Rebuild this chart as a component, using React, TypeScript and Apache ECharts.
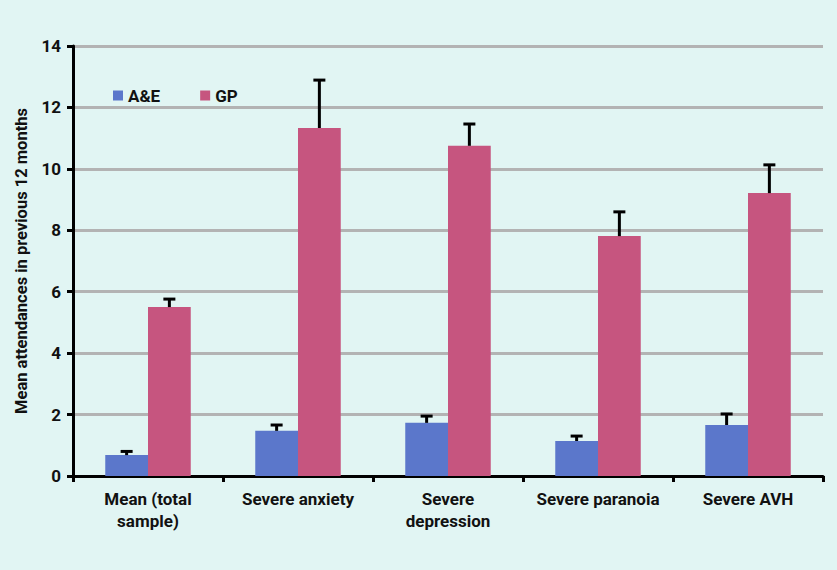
import React, { useEffect, useRef } from "react";
import * as echarts from "echarts";

const categories = ["Mean (total\nsample)", "Severe anxiety", "Severe\ndepression", "Severe paranoia", "Severe AVH"];
const aeValues = [0.68, 1.47, 1.73, 1.14, 1.66];
const aeUpper = [0.8, 1.66, 1.95, 1.3, 2.02];
const gpValues = [5.5, 11.33, 10.75, 7.81, 9.21];
const gpUpper = [5.76, 12.89, 11.46, 8.6, 10.13];
const seriesNames = ["A&E", "GP"];
const yTicks = { min: 0, max: 14, interval: 2 };
const yTitle = "Mean attendances in previous 12 months";

const FONT = "Roboto";
const CAT_GAP = 0.43;

export default function App() {
  const ref = useRef<HTMLDivElement>(null);
  useEffect(() => {
    document.body.style.margin = "0";
    const chart = echarts.init(ref.current!, null, { renderer: "svg" });
    const errorSeries = (name: string, vals: number[], upper: number[], side: number) => ({
      type: "custom",
      name: name + " err",
      z: 5,
      data: vals.map((v, i) => [i, v, upper[i]]),
      renderItem: (params: any, api: any) => {
        const i = api.value(0);
        const catW = api.size([1, 0])[0];
        const barW = (catW * (1 - CAT_GAP)) / 2;
        const base = api.coord([i, api.value(1)]);
        const top = api.coord([i, api.value(2)]);
        const x = base[0] + side * barW / 2;
        return {
          type: "group",
          children: [
            { type: "line", shape: { x1: x, y1: base[1], x2: x, y2: top[1] }, style: { stroke: "#000", lineWidth: 3 } },
            { type: "line", shape: { x1: x - 6, y1: top[1], x2: x + 6, y2: top[1] }, style: { stroke: "#000", lineWidth: 3 } },
          ],
        };
      },
    });
    chart.setOption({
      animation: false,
      backgroundColor: "#e1f5f3",
      textStyle: { fontFamily: FONT },
      grid: { left: 73, right: 14, top: 46, bottom: 94 },
      legend: {
        data: seriesNames,
        left: 108,
        top: 82,
        icon: "rect",
        itemWidth: 10,
        itemHeight: 10,
        itemGap: 40,
        textStyle: { fontSize: 17, fontWeight: "bold", color: "#111", fontFamily: FONT },
      },
      graphic: [
        {
          type: "text",
          x: 21,
          y: 261,
          rotation: Math.PI / 2,
          style: {
            text: yTitle,
            fontSize: 16.5,
            fontWeight: "bold",
            fontFamily: FONT,
            fill: "#111",
            align: "center",
            verticalAlign: "middle",
          },
        },
      ],
      xAxis: {
        type: "category",
        data: categories,
        axisLine: { lineStyle: { color: "#000", width: 3 } },
        axisTick: { show: true, length: 6, lineStyle: { color: "#000", width: 3 } },
        axisLabel: { fontSize: 17, fontWeight: "bold", color: "#111", margin: 12, lineHeight: 22, interval: 0 },
      },
      yAxis: {
        type: "value",
        min: yTicks.min,
        max: yTicks.max,
        interval: yTicks.interval,
        axisLine: { show: true, lineStyle: { color: "#000", width: 3 } },
        axisTick: { show: true, length: 6, lineStyle: { color: "#000", width: 3 } },
        axisLabel: { fontSize: 17, fontWeight: "bold", color: "#111", margin: 12 },
        splitLine: { lineStyle: { color: "#b3b3b3", width: 3 } },
      },
      series: [
        { name: seriesNames[0], type: "bar", data: aeValues, barGap: "0%", barCategoryGap: "43%", itemStyle: { color: "#5b77cb" } },
        { name: seriesNames[1], type: "bar", data: gpValues, barGap: "0%", barCategoryGap: "43%", itemStyle: { color: "#c6557f" } },
        errorSeries("A&E", aeValues, aeUpper, -1),
        errorSeries("GP", gpValues, gpUpper, 1),
      ],
    });
    return () => chart.dispose();
  }, []);
  return <div ref={ref} style={{ width: 837, height: 570 }} />;
}
